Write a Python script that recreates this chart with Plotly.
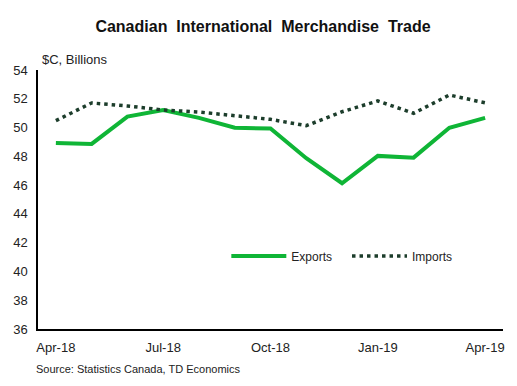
import plotly.graph_objects as go

months = ["Apr-18","May-18","Jun-18","Jul-18","Aug-18","Sep-18","Oct-18",
          "Nov-18","Dec-18","Jan-19","Feb-19","Mar-19","Apr-19"]
exports = [48.93, 48.86, 50.76, 51.22, 50.67, 49.99, 49.93, 47.87, 46.13, 48.03, 47.91, 49.99, 50.67]
imports = [50.48, 51.71, 51.50, 51.22, 51.08, 50.85, 50.57, 50.13, 51.10, 51.85, 50.99, 52.26, 51.72]
tick_labels = ["Apr-18", "Jul-18", "Oct-18", "Jan-19", "Apr-19"]
tick_idx = [0, 3, 6, 9, 12]

x = list(range(len(months)))

fig = go.Figure()
fig.add_trace(go.Scatter(x=x, y=exports, mode="lines", name="Exports\u00a0\u00a0\u00a0",
                         line=dict(color="#0fb536", width=4)))
fig.add_trace(go.Scatter(x=x, y=imports, mode="lines", name="Imports",
                         line=dict(color="#1c3d2b", width=3.5, dash="3.5px,4px")))

title_text = "Canadian\u00a0 International\u00a0 Merchandise\u00a0 Trade"

fig.update_layout(
    width=517, height=386,
    margin=dict(l=38, r=14, t=70, b=57),
    paper_bgcolor="white", plot_bgcolor="white",
    font=dict(family="Liberation Sans, Arial, sans-serif", color="#222", size=13),
    title=dict(text="<b>" + title_text + "</b>",
               x=263/517, xanchor="center", y=1 - 26/386, yanchor="middle",
               font=dict(size=16, color="#111")),
    showlegend=True,
    legend=dict(orientation="h", x=0.405, y=0.282, xanchor="left", yanchor="middle",
                font=dict(size=12, color="#222"), bgcolor="rgba(0,0,0,0)",
                itemwidth=55),
    xaxis=dict(range=[-0.5, 12.5], tickvals=tick_idx, ticktext=tick_labels,
               showgrid=False, zeroline=False, showline=True, linecolor="black",
               linewidth=1.5, ticks="", tickfont=dict(size=13), ticklabelstandoff=6),
    yaxis=dict(range=[36, 54], dtick=2, showgrid=False, zeroline=False,
               showline=True, linecolor="black", linewidth=1.5, ticks="",
               tickfont=dict(size=13), ticklabelstandoff=6),
    annotations=[
        dict(text="$C, Billions", xref="paper", yref="paper", x=0, y=1,
             xanchor="left", yanchor="bottom", xshift=2, yshift=1, showarrow=False,
             font=dict(size=13, color="#222")),
        dict(text="Source: Statistics Canada, TD Economics", xref="paper", yref="paper",
             x=0, y=0, xanchor="left", yanchor="middle", xshift=-4, yshift=-40,
             showarrow=False, font=dict(size=11, color="#222")),
    ],
)

fig.write_html("out.html")
